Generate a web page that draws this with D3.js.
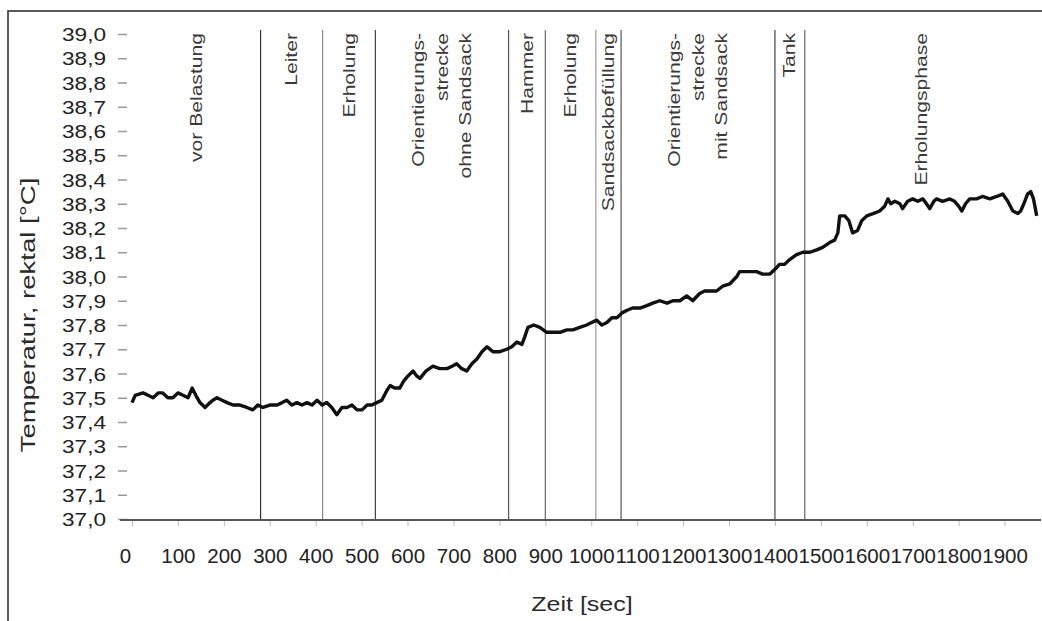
<!DOCTYPE html>
<html>
<head>
<meta charset="utf-8">
<script src="https://cdn.jsdelivr.net/npm/d3@7"></script>
<style>
  body { margin: 0; background: #fff; }
  text { font-family: "Liberation Sans", Arial, sans-serif; fill: #222; }
</style>
</head>
<body>
<svg id="chart" width="1042" height="621"></svg>
<script>
// rectal temperature over time
const seconds = [0, 7, 24, 35, 46, 57, 67, 78, 89, 100, 111, 122, 131, 139, 148, 159, 170, 176, 185, 196,
  207, 220, 235, 250, 263, 274, 285, 300, 316, 327, 337, 348, 359, 370, 381, 392, 403, 414, 424, 435,
  446, 457, 468, 479, 490, 501, 512, 522, 533, 544, 555, 562, 572, 583, 592, 601, 612, 620, 627, 640,
  655, 670, 686, 697, 707, 718, 729, 740, 751, 762, 773, 786, 801, 816, 827, 838, 849, 855, 862, 875,
  888, 903, 916, 932, 947, 960, 975, 990, 1001, 1012, 1023, 1034, 1045, 1056, 1067, 1077, 1090, 1106, 1121, 1134,
  1149, 1165, 1178, 1193, 1208, 1221, 1236, 1247, 1258, 1273, 1286, 1302, 1317, 1323, 1341, 1360, 1373, 1389, 1400, 1410,
  1421, 1432, 1447, 1461, 1476, 1491, 1504, 1519, 1530, 1537, 1541, 1552, 1561, 1569, 1580, 1589, 1600, 1615, 1628, 1639,
  1646, 1652, 1661, 1672, 1678, 1689, 1700, 1711, 1722, 1730, 1737, 1746, 1752, 1765, 1781, 1791, 1800, 1807, 1815, 1824,
  1839, 1852, 1868, 1883, 1896, 1907, 1918, 1929, 1935, 1942, 1950, 1957, 1963, 1970];
const temps = [37.48, 37.51, 37.52, 37.51, 37.50, 37.52, 37.52, 37.50, 37.50, 37.52, 37.51, 37.50, 37.54, 37.51, 37.48, 37.46, 37.48, 37.49, 37.50, 37.49,
  37.48, 37.47, 37.47, 37.46, 37.45, 37.47, 37.46, 37.47, 37.47, 37.48, 37.49, 37.47, 37.48, 37.47, 37.48, 37.47, 37.49, 37.47, 37.48, 37.46,
  37.43, 37.46, 37.46, 37.47, 37.45, 37.45, 37.47, 37.47, 37.48, 37.49, 37.53, 37.55, 37.54, 37.54, 37.57, 37.59, 37.61, 37.59, 37.58, 37.61,
  37.63, 37.62, 37.62, 37.63, 37.64, 37.62, 37.61, 37.64, 37.66, 37.69, 37.71, 37.69, 37.69, 37.70, 37.71, 37.73, 37.72, 37.75, 37.79, 37.80,
  37.79, 37.77, 37.77, 37.77, 37.78, 37.78, 37.79, 37.80, 37.81, 37.82, 37.80, 37.81, 37.83, 37.83, 37.85, 37.86, 37.87, 37.87, 37.88, 37.89,
  37.90, 37.89, 37.90, 37.90, 37.92, 37.90, 37.93, 37.94, 37.94, 37.94, 37.96, 37.97, 38.00, 38.02, 38.02, 38.02, 38.01, 38.01, 38.03, 38.05,
  38.05, 38.07, 38.09, 38.10, 38.10, 38.11, 38.12, 38.14, 38.15, 38.18, 38.25, 38.25, 38.23, 38.18, 38.19, 38.23, 38.25, 38.26, 38.27, 38.29,
  38.32, 38.30, 38.31, 38.30, 38.28, 38.31, 38.32, 38.31, 38.32, 38.30, 38.28, 38.31, 38.32, 38.31, 38.32, 38.31, 38.29, 38.27, 38.30, 38.32,
  38.32, 38.33, 38.32, 38.33, 38.34, 38.31, 38.27, 38.26, 38.27, 38.30, 38.34, 38.35, 38.32, 38.25];

// phase start times (sec) and their labels
const phaseStarts = [0, 280, 415, 530, 820, 900, 1010, 1065, 1400, 1465];
const phaseLabels = [
  ['vor Belastung'], ['Leiter'], ['Erholung'],
  ['Orientierungs-', 'strecke', 'ohne Sandsack'],
  ['Hammer'], ['Erholung'], ['Sandsackbefüllung'],
  ['Orientierungs-', 'strecke', 'mit Sandsack'],
  ['Tank'], ['Erholungsphase']
];
const lineShades = ['#333', '#888', '#444', '#555', '#666', '#999', '#555', '#444', '#666'];

const yTicks = d3.range(0, 21).map(i => 37 + i / 10);
const xTicks = d3.range(0, 2000, 100);

const svg = d3.select('#chart');

const x = d3.scaleLinear().domain([0, 1975]).range([132, 1039]);
const y = d3.scaleLinear().domain([37, 39]).range([519, 34]);

const de = d3.formatLocale({ decimal: ',', thousands: '.', grouping: [3], currency: ['', '€'] });
const fmt = de.format('.1f');

// frame
svg.append('rect')
  .attr('x', 8).attr('y', 11)
  .attr('width', 1050).attr('height', 630)
  .attr('fill', 'none')
  .attr('stroke', '#333')
  .attr('stroke-width', 1.6);

// phase separators
svg.selectAll('line.phase')
  .data(phaseStarts.slice(1))
  .join('line')
    .attr('class', 'phase')
    .attr('x1', d => x(d)).attr('x2', d => x(d))
    .attr('y1', 30).attr('y2', y(37))
    .attr('stroke', (d, i) => lineShades[i])
    .attr('stroke-width', 1.2);

// phase labels, centred between separators
const phaseG = svg.selectAll('g.phase-label')
  .data(phaseLabels)
  .join('g')
    .attr('class', 'phase-label')
    .attr('transform', (d, i) => {
      const end = i < phaseStarts.length - 1 ? phaseStarts[i + 1] : x.domain()[1];
      return `translate(${x((phaseStarts[i] + end) / 2)}, 0)`;
    });

phaseG.selectAll('text')
  .data(d => d.map((t, j) => ({ t, off: (j - (d.length - 1) / 2) * 23.5 })))
  .join('text')
    .attr('transform', d => `translate(${d.off}, 33) rotate(-90) scale(1.32, 1)`)
    .attr('text-anchor', 'end')
    .attr('dy', '0.35em')
    .style('font-size', '16px')
    .style('fill', '#3a3a3a')
    .text(d => d.t);

// y axis
const yAxis = d3.axisLeft(y).tickValues(yTicks).tickSize(9).tickFormat(fmt);
const gy = svg.append('g')
  .attr('transform', 'translate(127, 0)')
  .call(yAxis);
gy.select('path.domain').remove();
gy.selectAll('.tick line').attr('stroke', '#999').attr('stroke-width', 1.5);
gy.selectAll('.tick text')
  .attr('x', 0)
  .attr('transform', 'translate(-21, 0) scale(1.19, 1)')
  .attr('dy', '0.35em')
  .style('font-size', '19px')
  .attr('fill', '#2a2a2a');

// x axis
const xAxis = d3.axisBottom(x).tickValues(xTicks).tickSize(7).tickFormat(d3.format('d'));
const gx = svg.append('g')
  .attr('transform', `translate(0, ${y(37)})`)
  .call(xAxis);
gx.select('path.domain').remove();
gx.selectAll('.tick line').attr('stroke', '#bbb');
gx.selectAll('.tick text')
  .attr('y', 29)
  .attr('x', d => d === 0 ? -7 : 0)
  .style('font-size', '20.5px')
  .attr('fill', '#2a2a2a');

svg.append('line')
  .attr('x1', 120).attr('x2', x.range()[1] + 2)
  .attr('y1', y(37) + 1).attr('y2', y(37) + 1)
  .attr('stroke', '#555')
  .attr('stroke-width', 2);

// temperature curve
const data = seconds.map((s, i) => ({ s, t: temps[i] }));
svg.append('path')
  .datum(data)
  .attr('fill', 'none')
  .attr('stroke', '#111')
  .attr('stroke-width', 3.4)
  .attr('stroke-linejoin', 'round')
  .attr('d', d3.line().x(d => x(d.s)).y(d => y(d.t)));

// axis titles
svg.append('text')
  .attr('transform', 'translate(28, 315) rotate(-90) scale(1.38, 1)')
  .attr('text-anchor', 'middle')
  .attr('dy', '0.35em')
  .style('font-size', '20px')
  .style('fill', '#2a2a2a')
  .text('Temperatur, rektal [°C]');

svg.append('text')
  .attr('transform', 'translate(582, 611) scale(1.19, 1)')
  .attr('text-anchor', 'middle')
  .style('font-size', '21px')
  .style('fill', '#2a2a2a')
  .text('Zeit [sec]');
</script>
</body>
</html>
